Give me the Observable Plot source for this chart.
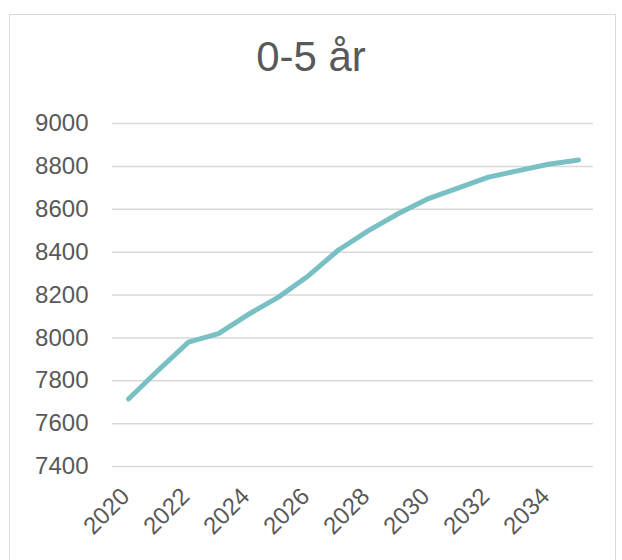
<!DOCTYPE html>
<html>
<head>
<meta charset="utf-8">
<script src="https://cdn.jsdelivr.net/npm/d3@7"></script>
<script src="https://cdn.jsdelivr.net/npm/@observablehq/plot@0.6"></script>
<style>
  html, body { margin: 0; padding: 0; background: #fff; }
  body { width: 622px; height: 560px; position: relative; overflow: hidden; font-family: "Liberation Sans", Arial, sans-serif; }
  #frame { position: absolute; left: 9px; top: 14px; width: 607px; height: 600px; border: 1px solid #d9d9d9; box-sizing: border-box; }
  #title { position: absolute; left: 0; top: 0; width: 622px; height: 100px; text-align: center; font-size: 42px; line-height: 42px; color: #595959; padding-top: 36px; box-sizing: border-box; }
  #chart { position: absolute; left: 0; top: 100px; }
</style>
</head>
<body>
<div id="frame"></div>
<div id="title">0-5 år</div>
<div id="chart"></div>
<script>
const years = [2020, 2021, 2022, 2023, 2024, 2025, 2026, 2027, 2028, 2029, 2030, 2031, 2032, 2033, 2034, 2035];
const values = [7715, 7850, 7980, 8020, 8110, 8190, 8290, 8410, 8500, 8580, 8650, 8700, 8750, 8780, 8810, 8830];
const yTicks = [7400, 7600, 7800, 8000, 8200, 8400, 8600, 8800, 9000];
const xTickLabels = [2020, 2022, 2024, 2026, 2028, 2030, 2032, 2034];

const data = years.map((year, i) => ({year, value: values[i]}));

const chart = Plot.plot({
  width: 622,
  height: 460,
  marginTop: 23,
  marginBottom: 94,
  marginLeft: 112,
  marginRight: 29,
  style: {color: "#595959", fontFamily: "'Liberation Sans', Arial, sans-serif", background: "transparent"},
  x: {type: "point", domain: years, padding: 0.5},
  y: {domain: [7400, 9000]},
  marks: [
    Plot.ruleY(yTicks, {stroke: "#d9d9d9", strokeWidth: 1.5}),
    Plot.axisY({ticks: yTicks, tickSize: 0, tickPadding: 24, fontSize: 24, label: null, tickFormat: d => String(d)}),
    Plot.axisX({ticks: xTickLabels, tickSize: 0, tickPadding: 26, tickRotate: -45, fontSize: 24, dx: -3, label: null, tickFormat: d => String(d)}),
    Plot.line(data, {x: "year", y: "value", stroke: "#78c0c3", strokeWidth: 5, strokeLinejoin: "round", strokeLinecap: "round"})
  ]
});
document.getElementById("chart").appendChild(chart);
</script>
</body>
</html>
